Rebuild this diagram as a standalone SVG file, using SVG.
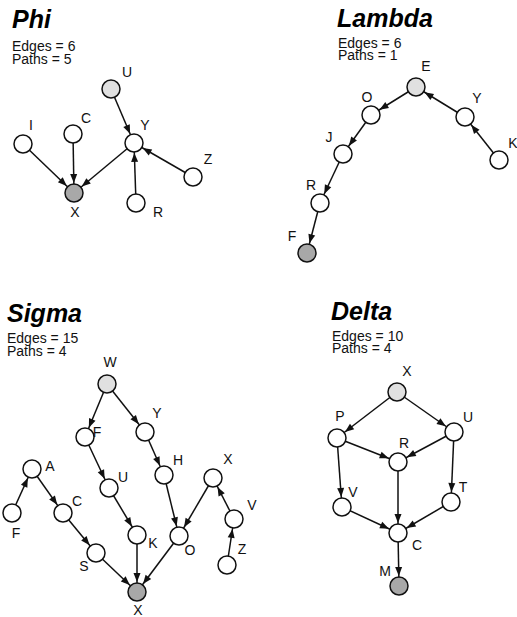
<svg xmlns="http://www.w3.org/2000/svg" width="517" height="617" viewBox="0 0 517 617">
  <style>
    .title { font-family: "Liberation Sans", Arial, sans-serif; font-size: 25px; font-weight: bold; font-style: italic; fill: #000; }
    .stat { font-family: "Liberation Sans", Arial, sans-serif; font-size: 14px; fill: #111; }
    .lbl { font-family: "Liberation Sans", Arial, sans-serif; font-size: 14px; fill: #111; text-anchor: middle; }
    .edge { stroke: #111; stroke-width: 1.5; fill: none; marker-end: url(#arrow); }
    .node circle { stroke: #111; stroke-width: 1.5; fill: #fff; }
    .node.src circle { fill: #e0e0e0; }
    .node.sink circle { fill: #a8a8a8; }
  </style>
  <defs>
    <marker id="arrow" markerUnits="userSpaceOnUse" markerWidth="9" markerHeight="7" refX="19" refY="3.5" orient="auto" overflow="visible">
      <path d="M0,0 L9,3.5 L0,7 z" fill="#111"/>
    </marker>
  </defs>
  <rect width="517" height="617" fill="#fff"/>

  <!-- panel headings -->
  <text class="title" x="12" y="28">Phi</text>
  <text class="stat" x="12" y="50.5">Edges = 6</text>
  <text class="stat" x="12" y="63.5">Paths = 5</text>

  <text class="title" x="337" y="27">Lambda</text>
  <text class="stat" x="338" y="48">Edges = 6</text>
  <text class="stat" x="338" y="60">Paths = 1</text>

  <text class="title" x="7" y="322">Sigma</text>
  <text class="stat" x="7" y="343">Edges = 15</text>
  <text class="stat" x="7" y="356">Paths = 4</text>

  <text class="title" x="331" y="320">Delta</text>
  <text class="stat" x="332" y="341">Edges = 10</text>
  <text class="stat" x="332" y="353">Paths = 4</text>

  <!-- connectors: centre to centre, arrowhead set back to the circle rim -->
  <g id="connectors">
    <!-- Phi -->
    <line class="edge" x1="111" y1="89" x2="134" y2="143"/>
    <line class="edge" x1="23" y1="144" x2="74" y2="193"/>
    <line class="edge" x1="73" y1="134" x2="74" y2="193"/>
    <line class="edge" x1="134" y1="143" x2="74" y2="193"/>
    <line class="edge" x1="136" y1="203" x2="134" y2="143"/>
    <line class="edge" x1="193" y1="177" x2="134" y2="143"/>
    <!-- Lambda -->
    <line class="edge" x1="416" y1="87" x2="371" y2="115"/>
    <line class="edge" x1="371" y1="115" x2="343" y2="154"/>
    <line class="edge" x1="343" y1="154" x2="320" y2="203"/>
    <line class="edge" x1="320" y1="203" x2="307" y2="253"/>
    <line class="edge" x1="465" y1="117" x2="416" y2="87"/>
    <line class="edge" x1="499" y1="160" x2="465" y2="117"/>
    <!-- Sigma -->
    <line class="edge" x1="107" y1="384" x2="85" y2="437"/>
    <line class="edge" x1="107" y1="384" x2="145" y2="432"/>
    <line class="edge" x1="85" y1="437" x2="109" y2="488"/>
    <line class="edge" x1="145" y1="432" x2="164" y2="475"/>
    <line class="edge" x1="109" y1="488" x2="137" y2="535"/>
    <line class="edge" x1="164" y1="475" x2="179" y2="536"/>
    <line class="edge" x1="213" y1="478" x2="179" y2="536"/>
    <line class="edge" x1="137" y1="535" x2="137" y2="592"/>
    <line class="edge" x1="179" y1="536" x2="137" y2="592"/>
    <line class="edge" x1="96" y1="553" x2="137" y2="592"/>
    <line class="edge" x1="63" y1="513" x2="96" y2="553"/>
    <line class="edge" x1="32" y1="469" x2="63" y2="513"/>
    <line class="edge" x1="12" y1="513" x2="32" y2="469"/>
    <line class="edge" x1="234" y1="519" x2="213" y2="478"/>
    <line class="edge" x1="227" y1="565" x2="234" y2="519"/>
    <!-- Delta -->
    <line class="edge" x1="397" y1="392" x2="337" y2="438"/>
    <line class="edge" x1="397" y1="392" x2="454" y2="432"/>
    <line class="edge" x1="337" y1="438" x2="398" y2="462"/>
    <line class="edge" x1="454" y1="432" x2="398" y2="462"/>
    <line class="edge" x1="337" y1="438" x2="342" y2="507"/>
    <line class="edge" x1="454" y1="432" x2="451" y2="502"/>
    <line class="edge" x1="398" y1="462" x2="398" y2="533"/>
    <line class="edge" x1="342" y1="507" x2="398" y2="533"/>
    <line class="edge" x1="451" y1="502" x2="398" y2="533"/>
    <line class="edge" x1="398" y1="533" x2="399" y2="586"/>
  </g>

  <!-- Phi nodes -->
  <g id="phi-U" class="node src"><circle cx="111" cy="89" r="9"/><text class="lbl" x="127" y="77">U</text></g>
  <g id="phi-Y" class="node"><circle cx="134" cy="143" r="9"/><text class="lbl" x="145" y="130">Y</text></g>
  <g id="phi-I" class="node"><circle cx="23" cy="144" r="9"/><text class="lbl" x="31" y="130">I</text></g>
  <g id="phi-C" class="node"><circle cx="73" cy="134" r="9"/><text class="lbl" x="86" y="123">C</text></g>
  <g id="phi-X" class="node sink"><circle cx="74" cy="193" r="9"/><text class="lbl" x="75" y="217">X</text></g>
  <g id="phi-R" class="node"><circle cx="136" cy="203" r="9"/><text class="lbl" x="158" y="217">R</text></g>
  <g id="phi-Z" class="node"><circle cx="193" cy="177" r="9"/><text class="lbl" x="208" y="164">Z</text></g>

  <!-- Lambda nodes -->
  <g id="lambda-E" class="node src"><circle cx="416" cy="87" r="9"/><text class="lbl" x="426" y="71">E</text></g>
  <g id="lambda-O" class="node"><circle cx="371" cy="115" r="9"/><text class="lbl" x="367" y="102">O</text></g>
  <g id="lambda-Y" class="node"><circle cx="465" cy="117" r="9"/><text class="lbl" x="477" y="103">Y</text></g>
  <g id="lambda-J" class="node"><circle cx="343" cy="154" r="9"/><text class="lbl" x="329" y="142">J</text></g>
  <g id="lambda-K" class="node"><circle cx="499" cy="160" r="9"/><text class="lbl" x="513" y="148">K</text></g>
  <g id="lambda-R" class="node"><circle cx="320" cy="203" r="9"/><text class="lbl" x="311" y="190">R</text></g>
  <g id="lambda-F" class="node sink"><circle cx="307" cy="253" r="9"/><text class="lbl" x="292" y="241">F</text></g>

  <!-- Sigma nodes -->
  <g id="sigma-W" class="node src"><circle cx="107" cy="384" r="9"/><text class="lbl" x="110" y="367">W</text></g>
  <g id="sigma-F1" class="node"><circle cx="85" cy="437" r="9"/><text class="lbl" x="97" y="437">F</text></g>
  <g id="sigma-Y" class="node"><circle cx="145" cy="432" r="9"/><text class="lbl" x="157" y="418">Y</text></g>
  <g id="sigma-A" class="node"><circle cx="32" cy="469" r="9"/><text class="lbl" x="50" y="471">A</text></g>
  <g id="sigma-H" class="node"><circle cx="164" cy="475" r="9"/><text class="lbl" x="178" y="465">H</text></g>
  <g id="sigma-X1" class="node"><circle cx="213" cy="478" r="9"/><text class="lbl" x="228" y="464">X</text></g>
  <g id="sigma-U" class="node"><circle cx="109" cy="488" r="9"/><text class="lbl" x="123" y="482">U</text></g>
  <g id="sigma-F2" class="node"><circle cx="12" cy="513" r="9"/><text class="lbl" x="16" y="538">F</text></g>
  <g id="sigma-C" class="node"><circle cx="63" cy="513" r="9"/><text class="lbl" x="77" y="506">C</text></g>
  <g id="sigma-V" class="node"><circle cx="234" cy="519" r="9"/><text class="lbl" x="252" y="510">V</text></g>
  <g id="sigma-K" class="node"><circle cx="137" cy="535" r="9"/><text class="lbl" x="153" y="548">K</text></g>
  <g id="sigma-O" class="node"><circle cx="179" cy="536" r="9"/><text class="lbl" x="190" y="555">O</text></g>
  <g id="sigma-S" class="node"><circle cx="96" cy="553" r="9"/><text class="lbl" x="84" y="571">S</text></g>
  <g id="sigma-Z" class="node"><circle cx="227" cy="565" r="9"/><text class="lbl" x="242" y="554">Z</text></g>
  <g id="sigma-X2" class="node sink"><circle cx="137" cy="592" r="9"/><text class="lbl" x="138" y="615">X</text></g>

  <!-- Delta nodes -->
  <g id="delta-X" class="node src"><circle cx="397" cy="392" r="9"/><text class="lbl" x="407" y="376">X</text></g>
  <g id="delta-P" class="node"><circle cx="337" cy="438" r="9"/><text class="lbl" x="340" y="421">P</text></g>
  <g id="delta-U" class="node"><circle cx="454" cy="432" r="9"/><text class="lbl" x="468" y="422">U</text></g>
  <g id="delta-R" class="node"><circle cx="398" cy="462" r="9"/><text class="lbl" x="404" y="448">R</text></g>
  <g id="delta-V" class="node"><circle cx="342" cy="507" r="9"/><text class="lbl" x="353" y="497">V</text></g>
  <g id="delta-T" class="node"><circle cx="451" cy="502" r="9"/><text class="lbl" x="463" y="492">T</text></g>
  <g id="delta-C" class="node"><circle cx="398" cy="533" r="9"/><text class="lbl" x="417" y="550">C</text></g>
  <g id="delta-M" class="node sink"><circle cx="399" cy="586" r="9"/><text class="lbl" x="385" y="576">M</text></g>
</svg>
